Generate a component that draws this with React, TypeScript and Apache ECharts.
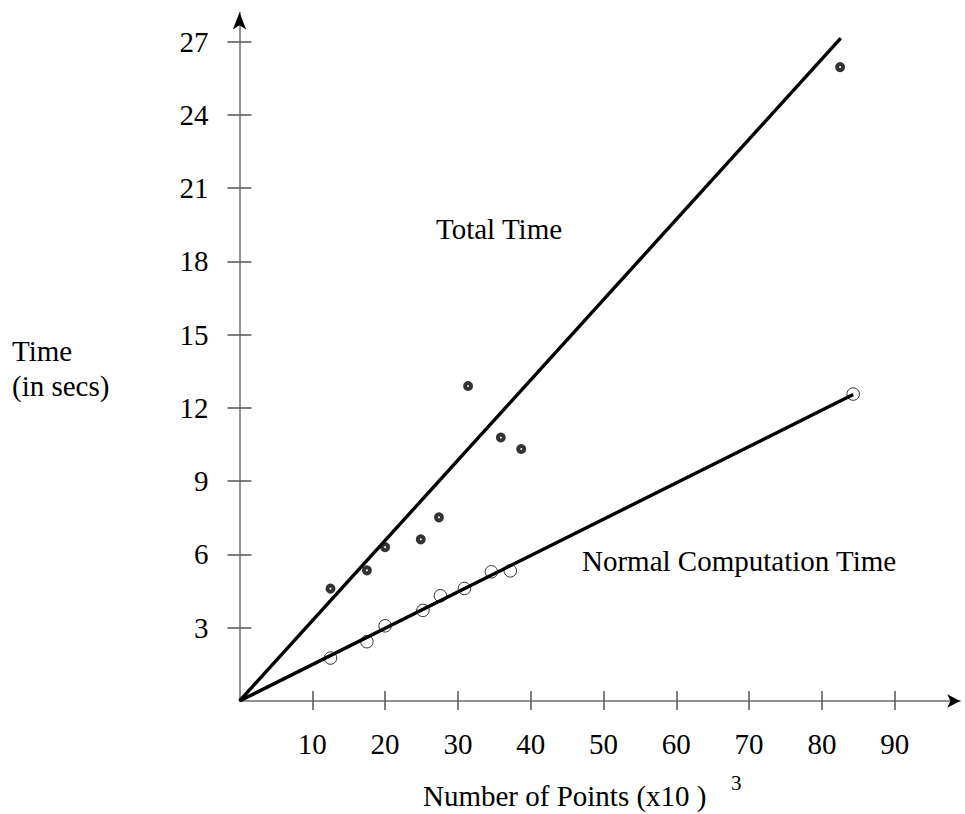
import React, { useEffect, useRef } from "react";
import * as echarts from "echarts";

const xTicks = [10, 20, 30, 40, 50, 60, 70, 80, 90];
const yTicks = [3, 6, 9, 12, 15, 18, 21, 24, 27];

const totalPoints: [number, number][] = [
  [12.5, 4.6],
  [17.5, 5.35],
  [20.0, 6.3],
  [24.9, 6.62],
  [27.4, 7.52],
  [31.4, 12.9],
  [35.9, 10.79],
  [38.7, 10.32],
  [82.5, 25.96],
];

const normalPoints: [number, number][] = [
  [12.5, 1.76],
  [17.5, 2.43],
  [20.0, 3.08],
  [25.2, 3.71],
  [27.6, 4.31],
  [30.9, 4.61],
  [34.6, 5.29],
  [37.2, 5.33],
  [84.3, 12.57],
];

const totalFit: [number, number][] = [
  [0, 0],
  [82.6, 27.15],
];
const normalFit: [number, number][] = [
  [0, 0],
  [84.3, 12.55],
];

const FONT = "'Liberation Serif', 'Times New Roman', serif";

export default function App() {
  const ref = useRef<HTMLDivElement>(null);
  useEffect(() => {
    if (!ref.current) return;
    const chart = echarts.init(ref.current, undefined, { renderer: "svg" });
    const axisGray = "#6e6e6e";
    const xBase = {
      type: "value" as const,
      min: 0,
      max: 99,
      position: "bottom" as const,
      splitLine: { show: false },
    };
    const yBase = {
      type: "value" as const,
      min: 0,
      max: 28.2,
      position: "left" as const,
      splitLine: { show: false },
    };
    chart.setOption({
      animation: false,
      backgroundColor: "#fff",
      grid: { left: 239.5, right: 4.8, top: 12.4, bottom: 113, containLabel: false },
      xAxis: [
        {
          ...xBase,
          axisLine: { show: true, onZero: false, lineStyle: { color: axisGray, width: 1.5 } },
          axisTick: {
            show: true,
            inside: false,
            length: 9,
            customValues: xTicks,
            lineStyle: { color: "#555", width: 1.5 },
          },
          axisLabel: {
            show: true,
            customValues: xTicks,
            margin: 28,
            color: "#000",
            fontFamily: FONT,
            fontSize: 29,
          },
        },
        {
          ...xBase,
          axisLine: {
            show: true,
            onZero: false,
            symbol: ["none", "arrow"],
            symbolSize: [10, 13],
            lineStyle: { color: "#000", width: 0 },
          },
          axisTick: {
            show: true,
            inside: true,
            length: 10,
            customValues: xTicks,
            lineStyle: { color: "#555", width: 1.5 },
          },
          axisLabel: { show: false },
        },
      ],
      yAxis: [
        {
          ...yBase,
          axisLine: { show: true, onZero: false, lineStyle: { color: axisGray, width: 1.5 } },
          axisTick: {
            show: true,
            inside: false,
            length: 12,
            customValues: yTicks,
            lineStyle: { color: "#555", width: 1.5 },
          },
          axisLabel: {
            show: true,
            customValues: yTicks,
            margin: 31,
            color: "#000",
            fontFamily: FONT,
            fontSize: 29,
            padding: [7, 0, 0, 0],
          },
        },
        {
          ...yBase,
          axisLine: {
            show: true,
            onZero: false,
            symbol: ["none", "arrow"],
            symbolSize: [10, 17],
            lineStyle: { color: "#000", width: 0 },
          },
          axisTick: {
            show: true,
            inside: true,
            length: 12,
            customValues: yTicks,
            lineStyle: { color: "#555", width: 1.5 },
          },
          axisLabel: { show: false },
        },
      ],
      series: [
        {
          type: "line",
          data: totalFit,
          showSymbol: false,
          lineStyle: { color: "#000", width: 3.4 },
          silent: true,
        },
        {
          type: "line",
          data: normalFit,
          showSymbol: false,
          lineStyle: { color: "#000", width: 3.4 },
          silent: true,
        },
        {
          type: "scatter",
          data: totalPoints,
          symbol: "circle",
          symbolSize: 6,
          itemStyle: { color: "#fff", borderColor: "#000", borderWidth: 4 },
          z: 5,
        },
        {
          type: "scatter",
          data: normalPoints,
          symbol: "circle",
          symbolSize: 12.5,
          itemStyle: { color: "rgba(0,0,0,0)", borderColor: "#000", borderWidth: 1 },
          z: 5,
        },
      ],
      graphic: [
        {
          type: "text",
          left: 436,
          top: 214,
          style: { text: "Total Time", fontFamily: FONT, fontSize: 29, fill: "#000" },
        },
        {
          type: "text",
          left: 582,
          top: 546,
          style: { text: "Normal Computation Time", fontFamily: FONT, fontSize: 29, fill: "#000" },
        },
        {
          type: "text",
          left: 12,
          top: 336,
          style: { text: "Time", fontFamily: FONT, fontSize: 29, fill: "#000" },
        },
        {
          type: "text",
          left: 12,
          top: 371,
          style: { text: "(in secs)", fontFamily: FONT, fontSize: 29, fill: "#000" },
        },
        {
          type: "text",
          left: 423,
          top: 781,
          style: { text: "Number of Points (x10 )", fontFamily: FONT, fontSize: 29, fill: "#000" },
        },
        {
          type: "text",
          left: 731,
          top: 772,
          style: { text: "3", fontFamily: FONT, fontSize: 21, fill: "#000" },
        },
      ],
    });
    return () => chart.dispose();
  }, []);
  return (
    <div
      ref={ref}
      style={{ position: "fixed", left: 0, top: 0, width: 965, height: 814 }}
    />
  );
}
